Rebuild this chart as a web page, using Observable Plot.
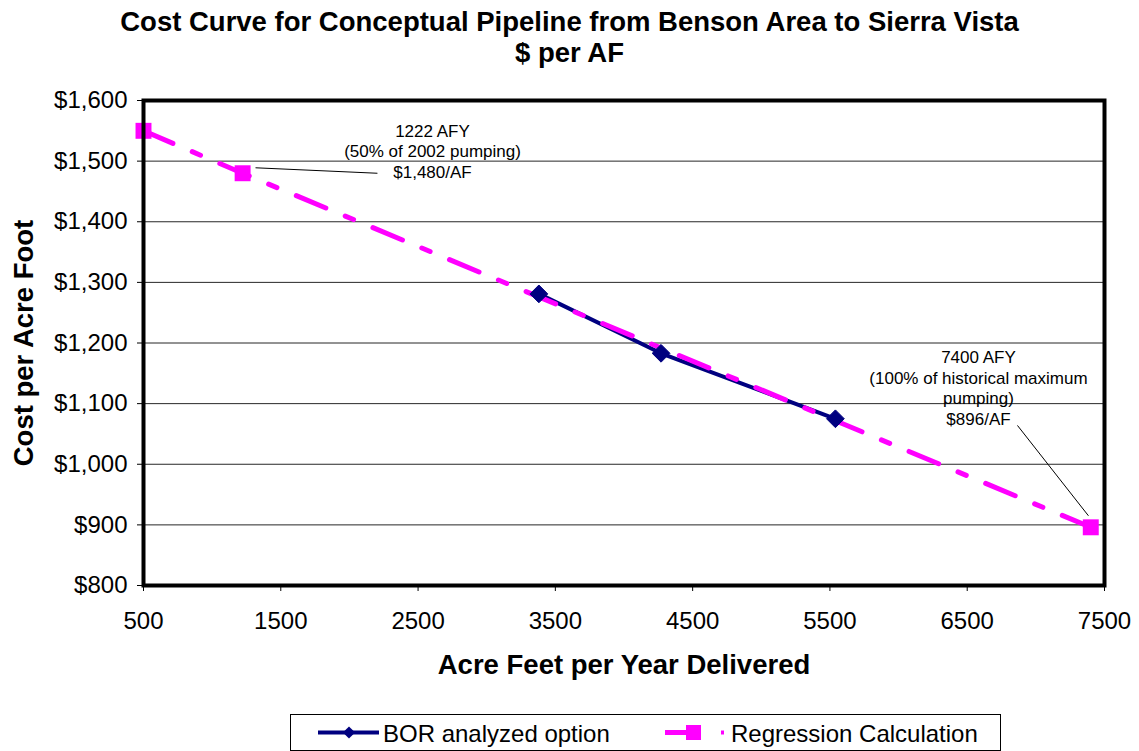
<!DOCTYPE html>
<html>
<head>
<meta charset="utf-8">
<script src="https://cdn.jsdelivr.net/npm/d3@7"></script>
<script src="https://cdn.jsdelivr.net/npm/@observablehq/plot@0.6"></script>
<style>
  body { margin: 0; background: #fff; font-family: Arial, "Liberation Sans", sans-serif; }
  #wrap { width: 1139px; height: 751px; overflow: hidden; position: relative; background: #fff; }
  #title { height: 80px; box-sizing: border-box; padding-top: 6px; text-align: center;
           font-weight: bold; font-size: 27.5px; line-height: 31px; color: #000; }
  #chart svg g[aria-label="x-axis label"], #chart svg g[aria-label="y-axis label"] { font-weight: bold; font-size: 27.5px; }
  #legend { position: absolute; left: 290px; top: 714px; width: 711px; height: 37px;
            box-sizing: border-box; border: 1px solid #000; background: #fff; }
  #legend svg { display: block; }
</style>
</head>
<body>
<div id="wrap">
  <div id="title">Cost Curve for Conceptual Pipeline from Benson Area to Sierra Vista<br>$ per AF</div>
  <div id="chart"></div>
  <div id="legend"></div>
</div>
<script>
// ---- data ----
const borX = [3380, 4270, 5540];
const borY = [1281, 1183, 1075];
const regX = [500, 1222, 7400];
const regY = [1550, 1480, 896];
const xTicks = [500, 1500, 2500, 3500, 4500, 5500, 6500, 7500];
const yTicks = [800, 900, 1000, 1100, 1200, 1300, 1400, 1500, 1600];
const seriesNames = ["BOR analyzed option", "Regression Calculation"];
const annoText = ["1222 AFY\n(50% of 2002 pumping)\n$1,480/AF", "7400 AFY\n(100% of historical maximum\npumping)\n$896/AF"];
const annoX = [2605, 6582];
const annoY = [1517, 1127];
const leaderX1 = [1316, 6866];
const leaderY1 = [1489, 1064];
const leaderX2 = [2204, 7383];
const leaderY2 = [1480, 915];

const bor = borX.map((x, i) => ({x, y: borY[i]}));
const reg = regX.map((x, i) => ({x, y: regY[i]}));
const annos = annoText.map((t, i) => ({t, x: annoX[i], y: annoY[i]}));
const leaders = leaderX1.map((x1, i) => ({x1, y1: leaderY1[i], x2: leaderX2[i], y2: leaderY2[i]}));

const NAVY = "#000080", MAG = "#FF00FF";

const chart = Plot.plot({
  width: 1139,
  height: 620,
  marginTop: 20,
  marginLeft: 143,
  marginRight: 35,
  marginBottom: 115,
  style: { fontFamily: "Arial, 'Liberation Sans', sans-serif", fontSize: "24px", color: "#000", background: "#fff", overflow: "visible" },
  x: { domain: [500, 7500] },
  y: { domain: [800, 1600] },
  marks: [
    Plot.gridY(yTicks, { stroke: "#000", strokeOpacity: 0.85, strokeWidth: 1 }),
    Plot.axisX({ ticks: xTicks, tickFormat: d => String(d), tickSize: 6, tickPadding: 20,
                 label: "Acre Feet per Year Delivered", labelAnchor: "center", labelOffset: 88, labelArrow: "none" }),
    Plot.axisY({ ticks: yTicks, tickFormat: d3.format("$,"), tickSize: 6, tickPadding: 10,
                 label: "Cost per Acre Foot", labelAnchor: "center", labelOffset: 130, labelArrow: "none" }),
    Plot.line(bor, { x: "x", y: "y", stroke: NAVY, strokeWidth: 4 }),
    Plot.line(reg, { x: "x", y: "y", stroke: MAG, strokeWidth: 5, strokeDasharray: "32,21,9,21" }),
    Plot.dot(bor, { x: "x", y: "y", symbol: "diamond2", r: 8, fill: NAVY, stroke: NAVY, strokeWidth: 1 }),
    Plot.dot(reg, { x: "x", y: "y", symbol: "square", r: 9, fill: MAG, stroke: "none" }),
    Plot.link(leaders, { x1: "x1", y1: "y1", x2: "x2", y2: "y2", stroke: "#000", strokeWidth: 1 }),
    Plot.text(annos, { x: "x", y: "y", text: "t", fontSize: 17, lineHeight: 1.22, fill: "#000", textAnchor: "middle" }),
    Plot.frame({ stroke: "#000", strokeWidth: 4 })
  ]
});
document.getElementById("chart").appendChild(chart);

// ---- legend ----
const lg = d3.select("#legend").append("svg").attr("width", 709).attr("height", 35)
  .style("font-family", "Arial, 'Liberation Sans', sans-serif").style("font-size", "24px");
lg.append("line").attr("x1", 27).attr("x2", 88).attr("y1", 17.5).attr("y2", 17.5).attr("stroke", NAVY).attr("stroke-width", 4);
lg.append("path").attr("d", d3.symbol(d3.symbolDiamond2, 95)()).attr("transform", "translate(58,17.5)").attr("fill", NAVY);
lg.append("text").attr("x", 92).attr("y", 27).text(seriesNames[0]);
lg.append("line").attr("x1", 374).attr("x2", 396).attr("y1", 17.5).attr("y2", 17.5).attr("stroke", MAG).attr("stroke-width", 5);
lg.append("rect").attr("x", 395).attr("y", 10).attr("width", 15).attr("height", 15).attr("fill", MAG);
lg.append("rect").attr("x", 430).attr("y", 15.5).attr("width", 3).attr("height", 4).attr("fill", MAG);
lg.append("text").attr("x", 440).attr("y", 27).text(seriesNames[1]);
</script>
</body>
</html>
